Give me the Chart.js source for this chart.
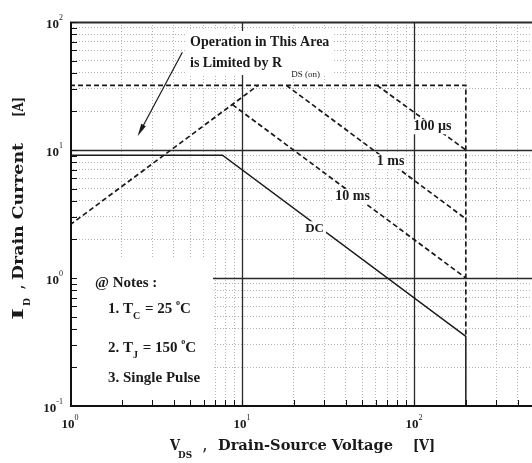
<!DOCTYPE html>
<html>
<head>
<meta charset="utf-8">
<script src="https://cdn.jsdelivr.net/npm/chart.js@4.4.1/dist/chart.umd.min.js"></script>
<style>
  html, body { margin: 0; padding: 0; background: #fff; }
  #wrap { width: 532px; height: 463px; position: relative; }
</style>
</head>
<body>
<div id="wrap"><canvas id="soa"></canvas></div>
<script>
// Safe operating area, log-log.

const xTickVals = [1, 2, 3, 4, 5, 6, 7, 8, 9, 10, 20, 30, 40, 50, 60, 70, 80, 90, 100, 200, 300, 400];
const yTickVals = [0.1, 0.2, 0.3, 0.4, 0.5, 0.6, 0.7, 0.8, 0.9, 1, 2, 3, 4, 5, 6, 7, 8, 9,
  10, 20, 30, 40, 50, 60, 70, 80, 90, 100];
const xMajor = [10, 100];
const yMajor = [1, 10, 100];
const xLabelExp = [0, 1, 2];
const yLabelExp = [-1, 0, 1, 2];

// curves: V (volts) / I (amps)
const rdsV = [1, 12.4];
const rdsI = [2.6, 32];
const limitV = [1, 200, 200];
const limitI = [32, 32, 0.35];
const us100V = [61, 200];
const us100I = [32, 10];
const ms1V = [18.1, 200];
const ms1I = [32, 2.9];
const ms10V = [8.8, 200];
const ms10I = [22.6, 1.0];
const dcV = [1, 7.7, 200, 200];
const dcI = [9.1, 9.1, 0.35, 0.1];

const curveLabels = ["100 µs", "1 ms", "10 ms", "DC"];
const curveLabelV = [128, 73, 43.9, 26.4];
const curveLabelI = [15.6, 8.3, 4.43, 2.49];

const arrowV = [4.5, 2.47];
const arrowI = [58, 12.8];

const INK = "#1a1a1a";
const SERIF = '"Liberation Serif", serif';
const SLAB = '"DejaVu Serif", serif';

function pts(xs, ys) {
  return xs.map((x, i) => ({ x, y: ys[i] }));
}

function curve(xs, ys, dashed) {
  return {
    data: pts(xs, ys),
    showLine: true,
    borderColor: INK,
    borderWidth: dashed ? 1.7 : 1.5,
    borderDash: dashed ? [5, 3] : [],
    pointRadius: 0,
    fill: false,
    tension: 0,
  };
}

// runs of text, each with its own font / offset
function runs(ctx, list, x, y, align) {
  let w = 0;
  list.forEach((r) => { ctx.font = r.f; w += ctx.measureText(r.t).width + (r.dx || 0); });
  let cx = align === "center" ? x - w / 2 : align === "right" ? x - w : x;
  ctx.textAlign = "left";
  ctx.textBaseline = "alphabetic";
  list.forEach((r) => {
    ctx.font = r.f;
    cx += r.dx || 0;
    ctx.fillText(r.t, cx, y + (r.dy || 0));
    cx += ctx.measureText(r.t).width;
  });
  return w;
}

// text squeezed/stretched to a given width
function fitText(ctx, text, font, x, y, width) {
  ctx.font = font;
  const w = ctx.measureText(text).width;
  ctx.save();
  ctx.translate(x, y);
  ctx.scale(width / w, 1);
  ctx.textAlign = "left";
  ctx.textBaseline = "alphabetic";
  ctx.fillText(text, 0, 0);
  ctx.restore();
}

function whiteText(ctx, text, font, x, y, align) {
  ctx.font = font;
  const w = ctx.measureText(text).width;
  const left = align === "center" ? x - w / 2 : x;
  ctx.fillStyle = "#fff";
  ctx.fillRect(left - 2, y - 11, w + 4, 15);
  ctx.fillStyle = INK;
  ctx.textAlign = "left";
  ctx.textBaseline = "alphabetic";
  ctx.fillText(text, left, y);
}

const soaDecor = {
  id: "soaDecor",
  beforeDatasetsDraw(chart) {
    const { ctx, chartArea: a, scales } = chart;
    const sx = scales.x, sy = scales.y;
    ctx.save();
    ctx.strokeStyle = "#2a2a2a";
    ctx.lineWidth = 1.3;
    xMajor.forEach((v) => {
      const px = Math.round(sx.getPixelForValue(v)) + 0.5;
      ctx.beginPath(); ctx.moveTo(px, a.top); ctx.lineTo(px, a.bottom); ctx.stroke();
    });
    yMajor.forEach((v) => {
      const py = Math.round(sy.getPixelForValue(v)) + 0.5;
      ctx.lineWidth = v === 100 ? 2 : 1.3;
      ctx.beginPath(); ctx.moveTo(a.left, py); ctx.lineTo(a.right, py); ctx.stroke();
    });
    // notes box and annotation box blank out the grid
    ctx.fillStyle = "#fff";
    ctx.fillRect(a.left + 1, 258, 142, 146);
    ctx.fillRect(187, 31, 145, 44);
    ctx.restore();
  },
  afterDatasetsDraw(chart) {
    const { ctx, chartArea: a, scales } = chart;
    const sx = scales.x, sy = scales.y;
    ctx.save();

    // curve labels
    curveLabels.forEach((t, i) => {
      const px = sx.getPixelForValue(curveLabelV[i]);
      const py = sy.getPixelForValue(curveLabelI[i]);
      whiteText(ctx, t, (t === "DC" ? "bold 13px " : "bold 14px ") + SERIF, px, py + 5, "center");
    });

    // R_DS(on) annotation
    ctx.fillStyle = INK;
    runs(ctx, [{ t: "Operation in This Area", f: "bold 14px " + SERIF }], 190, 46, "left");
    runs(ctx, [
      { t: "is Limited by R", f: "bold 14px " + SERIF },
      { t: "DS (on)", f: "9px " + SERIF, dx: 9, dy: 10 },
    ], 190, 67, "left");

    // arrow
    const x0 = sx.getPixelForValue(arrowV[0]), y0 = sy.getPixelForValue(arrowI[0]);
    const x1 = sx.getPixelForValue(arrowV[1]), y1 = sy.getPixelForValue(arrowI[1]);
    const ang = Math.atan2(y1 - y0, x1 - x0);
    ctx.strokeStyle = INK;
    ctx.lineWidth = 1.2;
    ctx.beginPath();
    ctx.moveTo(x0, y0);
    ctx.lineTo(x1 - 8 * Math.cos(ang), y1 - 8 * Math.sin(ang));
    ctx.stroke();
    ctx.fillStyle = INK;
    ctx.beginPath();
    ctx.moveTo(x1, y1);
    ctx.lineTo(x1 - 13 * Math.cos(ang - 0.2), y1 - 13 * Math.sin(ang - 0.2));
    ctx.lineTo(x1 - 13 * Math.cos(ang + 0.2), y1 - 13 * Math.sin(ang + 0.2));
    ctx.closePath();
    ctx.fill();

    // notes
    const nf = "bold 15px " + SERIF, sf = "bold 10px " + SERIF, df = "bold 8px " + SERIF;
    ctx.fillStyle = INK;
    runs(ctx, [{ t: "@ Notes :", f: nf }], 95, 287, "left");
    runs(ctx, [
      { t: "1. T", f: nf },
      { t: "C", f: sf, dy: 6 },
      { t: " = 25 ", f: nf, dx: 1 },
      { t: "o", f: df, dy: -8 },
      { t: "C", f: nf },
    ], 108, 313, "left");
    runs(ctx, [
      { t: "2. T", f: nf },
      { t: "J", f: sf, dy: 6 },
      { t: " = 150 ", f: nf, dx: 1 },
      { t: "o", f: df, dy: -8 },
      { t: "C", f: nf },
    ], 108, 352, "left");
    runs(ctx, [{ t: "3. Single Pulse", f: nf }], 108, 382, "left");

    // axes frame
    ctx.strokeStyle = "#111";
    ctx.lineWidth = 2;
    ctx.beginPath();
    ctx.moveTo(a.left + 1, a.top);
    ctx.lineTo(a.left + 1, a.bottom);
    ctx.lineTo(a.right, a.bottom);
    ctx.stroke();

    // inward ticks
    ctx.lineWidth = 1;
    xTickVals.forEach((v) => {
      const px = Math.round(sx.getPixelForValue(v)) + 0.5;
      ctx.beginPath(); ctx.moveTo(px, a.bottom); ctx.lineTo(px, a.bottom - 6); ctx.stroke();
    });
    yTickVals.forEach((v) => {
      const py = Math.round(sy.getPixelForValue(v)) + 0.5;
      ctx.beginPath(); ctx.moveTo(a.left, py); ctx.lineTo(a.left + 7, py); ctx.stroke();
    });

    // tick labels 10^n
    ctx.fillStyle = INK;
    xLabelExp.forEach((e) => {
      const px = sx.getPixelForValue(Math.pow(10, e));
      runs(ctx, [
        { t: "10", f: "bold 13px " + SERIF },
        { t: String(e), f: "8px " + SERIF, dy: -8 },
      ], px, a.bottom + 22, "center");
    });
    yLabelExp.forEach((e) => {
      const py = sy.getPixelForValue(Math.pow(10, e));
      runs(ctx, [
        { t: "10", f: "bold 13px " + SERIF },
        { t: String(e), f: "8px " + SERIF, dy: -8 },
      ], 63, py + 6, "right");
    });

    // axis titles (pieces placed like the original)
    const tf = "bold 14px " + SLAB, tsf = "bold 8.5px " + SLAB;
    fitText(ctx, "V", tf, 170, 450, 10);
    fitText(ctx, "DS", tsf, 178, 458, 14);
    fitText(ctx, ",", tf, 203, 450, 4);
    fitText(ctx, "Drain-Source Voltage", tf, 218, 450, 175);
    fitText(ctx, "[V]", tf, 413, 450, 22);

    ctx.translate(23, 320);
    ctx.rotate(-Math.PI / 2);
    fitText(ctx, "I", tf, 0, 0, 12);
    fitText(ctx, "D", tsf, 14, 7, 8);
    fitText(ctx, ",", tf, 31, 0, 4);
    fitText(ctx, "Drain Current", tf, 40, 0, 137);
    fitText(ctx, "[A]", tf, 203, 0, 20);

    ctx.restore();
  },
};

new Chart(document.getElementById("soa"), {
  type: "scatter",
  data: {
    datasets: [
      curve(rdsV, rdsI, true),
      curve(limitV, limitI, true),
      curve(us100V, us100I, true),
      curve(ms1V, ms1I, true),
      curve(ms10V, ms10I, true),
      curve(dcV, dcI, false),
    ],
  },
  options: {
    responsive: true,
    maintainAspectRatio: false,
    animation: false,
    layout: { padding: { left: 70, top: 22, right: 0, bottom: 57 } },
    plugins: { legend: { display: false }, tooltip: { enabled: false } },
    scales: {
      x: {
        type: "logarithmic",
        min: 1,
        max: 485,
        afterBuildTicks: (s) => { s.ticks = xTickVals.map((v) => ({ value: v })); },
        afterFit: (s) => { s.height = 0; },
        ticks: { display: false },
        grid: { color: "#b5b5b5", lineWidth: 1, drawTicks: false },
        border: { display: false, dash: [1, 2] },
      },
      y: {
        type: "logarithmic",
        min: 0.1,
        max: 100,
        afterBuildTicks: (s) => { s.ticks = yTickVals.map((v) => ({ value: v })); },
        afterFit: (s) => { s.width = 0; },
        ticks: { display: false },
        grid: { color: "#b5b5b5", lineWidth: 1, drawTicks: false },
        border: { display: false, dash: [1, 2] },
      },
    },
  },
  plugins: [soaDecor],
});
</script>
</body>
</html>
